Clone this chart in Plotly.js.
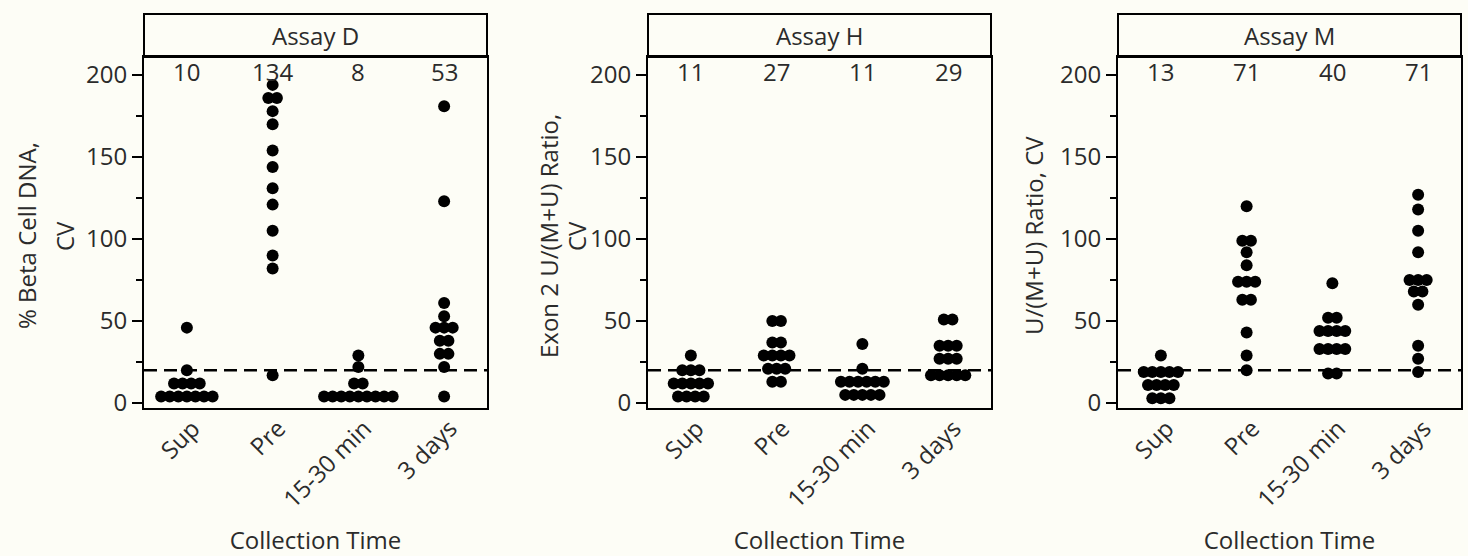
<!DOCTYPE html>
<html>
<head>
<meta charset="utf-8">
<script src="https://cdn.plot.ly/plotly-3.0.1.min.js"></script>
<style>
  html, body { margin: 0; padding: 0; background: #fdfdf6; }
  #chart { width: 1468px; height: 556px; }
</style>
</head>
<body>
<div id="chart"></div>
<script>
// Collection-time categories shared by all three assays
const categories = ['Sup', 'Pre', '15-30 min', '3 days'];

// Assay D: % beta cell DNA, CV (one value per sample)
const assayD_sup   = [46, 20, 12, 12, 12, 12, 4, 4, 4, 4, 4, 4, 4];
const assayD_pre   = [194, 186, 186, 178, 170, 154, 144, 131, 121, 105, 90, 82, 17];
const assayD_min15 = [29, 22, 12, 12, 4, 4, 4, 4, 4, 4, 4, 4, 4];
const assayD_days3 = [181, 123, 61, 53, 46, 46, 46, 38, 38, 30, 30, 22, 4];
const assayD_labels = ['10', '134', '8', '53'];

// Assay H: exon 2 U/(M+U) ratio, CV
const assayH_sup   = [29, 20, 20, 20, 12, 12, 12, 12, 12, 4, 4, 4, 4];
const assayH_pre   = [50, 50, 37, 37, 29, 29, 29, 29, 21, 21, 21, 13, 13];
const assayH_min15 = [36, 21, 13, 13, 13, 13, 13, 13, 5, 5, 5, 5, 5];
const assayH_days3 = [51, 51, 35, 35, 35, 27, 27, 27, 17, 17, 17, 17, 17];
const assayH_labels = ['11', '27', '11', '29'];

// Assay M: U/(M+U) ratio, CV
const assayM_sup   = [29, 19, 19, 19, 19, 19, 11, 11, 11, 11, 3, 3, 3];
const assayM_pre   = [120, 99, 99, 92, 84, 74, 74, 74, 63, 63, 43, 29, 20];
const assayM_min15 = [73, 52, 52, 44, 44, 44, 44, 33, 33, 33, 33, 18, 18];
const assayM_days3 = [127, 118, 105, 92, 75, 75, 75, 68, 68, 60, 35, 27, 19];
const assayM_labels = ['13', '71', '40', '71'];

const referenceCV = 20;

const panels = [
  { name: 'Assay D', groups: [assayD_sup, assayD_pre, assayD_min15, assayD_days3], labels: assayD_labels },
  { name: 'Assay H', groups: [assayH_sup, assayH_pre, assayH_min15, assayH_days3], labels: assayH_labels },
  { name: 'Assay M', groups: [assayM_sup, assayM_pre, assayM_min15, assayM_days3], labels: assayM_labels }
];

// Figure geometry (pixels)
const W = 1468, H = 556;
const M = { l: 144, r: 7, t: 57, b: 148 };
const plotW = W - M.l - M.r;
const plotH = H - M.t - M.b;
const panelPx = [[144, 487], [648, 991], [1118, 1461]];
const headerTopPx = 14;
const px2x = p => (p - M.l) / plotW;
const px2y = p => (H - M.b - p) / plotH;

const FONT = 'Open Sans, "DejaVu Sans", sans-serif';
const TXT = '#2b2b2b';
const FS = 24;
const dotStep = 0.1;   // horizontal spread between stacked dots, in category units

// Spread samples that share a value side by side around the category centre
function stack(values, catIndex) {
  const counts = {};
  values.forEach(v => { counts[v] = (counts[v] || 0) + 1; });
  const seen = {};
  const xs = [], ys = [];
  values.forEach(v => {
    const n = counts[v];
    const i = seen[v] || 0;
    seen[v] = i + 1;
    xs.push(catIndex + (i - (n - 1) / 2) * dotStep);
    ys.push(v);
  });
  return { xs, ys };
}

const traces = [];
const shapes = [];
const annotations = [];
const layout = {
  width: W, height: H,
  margin: M,
  paper_bgcolor: '#fdfdf6',
  plot_bgcolor: '#fdfdf6',
  showlegend: false,
  font: { family: FONT, size: FS, color: TXT },
  shapes: shapes,
  annotations: annotations
};

panels.forEach((p, k) => {
  const sfx = k === 0 ? '' : String(k + 1);
  const xa = 'x' + sfx, ya = 'y' + sfx;
  const xs = [], ys = [];
  p.groups.forEach((g, ci) => {
    const s = stack(g, ci);
    xs.push(...s.xs); ys.push(...s.ys);
  });
  traces.push({
    type: 'scatter', mode: 'markers', x: xs, y: ys, xaxis: xa, yaxis: ya,
    marker: { color: '#000', size: 12, line: { width: 0 } },
    hoverinfo: 'y', cliponaxis: false
  });

  layout['xaxis' + sfx] = {
    domain: [px2x(panelPx[k][0]), px2x(panelPx[k][1])],
    range: [-0.5, 3.5],
    tickvals: [0, 1, 2, 3], ticktext: categories,
    tickangle: -45, ticks: '', showgrid: false, zeroline: false,
    ticklabelshift: 6, ticklabelstandoff: -5,
    showline: true, mirror: true, linecolor: '#000', linewidth: 2,
    tickfont: { size: FS, color: TXT },
    anchor: ya,
    title: { text: 'Collection Time', font: { size: FS, color: TXT }, standoff: 20 }
  };
  layout['yaxis' + sfx] = {
    domain: [0, 1],
    range: [-3, 211],
    tickvals: [0, 50, 100, 150, 200],
    ticks: 'outside', ticklen: 10, tickwidth: 2, tickcolor: '#000',
    minor: { ticks: 'outside', ticklen: 6, tickwidth: 2, tickcolor: '#000', dtick: 25, tick0: 0, showgrid: false },
    showgrid: false, zeroline: false,
    showline: true, mirror: true, linecolor: '#000', linewidth: 2,
    tickfont: { size: FS, color: TXT },
    anchor: xa
  };

  // Header strip with the assay name
  shapes.push({
    type: 'rect', xref: xa + ' domain', yref: 'paper',
    x0: 0, x1: 1, y0: 1, y1: px2y(headerTopPx),
    line: { color: '#000', width: 2 }, fillcolor: 'rgba(0,0,0,0)'
  });
  annotations.push({
    xref: xa + ' domain', yref: 'paper', x: 0.5, y: (1 + px2y(headerTopPx)) / 2,
    text: p.name, showarrow: false, xanchor: 'center', yanchor: 'middle',
    font: { size: FS, color: TXT }
  });

  // Dashed reference line at CV = 20
  shapes.push({
    type: 'line', xref: xa + ' domain', yref: ya,
    x0: 0, x1: 1, y0: referenceCV, y1: referenceCV,
    line: { color: '#000', width: 2.5, dash: '13px,7px' }, layer: 'above'
  });

  // Summary numbers above each column
  p.labels.forEach((t, ci) => {
    annotations.push({
      xref: xa, yref: ya, x: ci, y: 202, text: t, showarrow: false,
      xanchor: 'center', yanchor: 'middle', font: { size: FS, color: TXT }
    });
  });
});

// Y-axis titles
const yTitles = [
  { text: '% Beta Cell DNA,', xpx: 26 },
  { text: 'CV', xpx: 64 },
  { text: 'Exon 2 U/(M+U) Ratio,', xpx: 548 },
  { text: 'CV', xpx: 576 },
  { text: 'U/(M+U) Ratio, CV', xpx: 1033 }
];
yTitles.forEach(t => {
  annotations.push({
    xref: 'paper', yref: 'paper', x: px2x(t.xpx), y: px2y(236),
    text: t.text, textangle: -90, showarrow: false,
    xanchor: 'center', yanchor: 'middle', font: { size: FS, color: TXT }
  });
});

Plotly.newPlot('chart', traces, layout, { staticPlot: true });
</script>
</body>
</html>
